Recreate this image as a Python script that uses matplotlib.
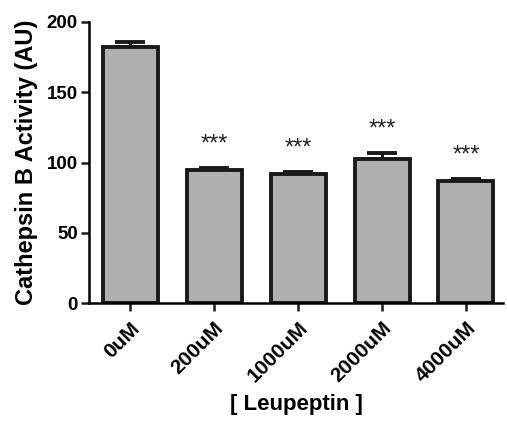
import matplotlib
matplotlib.use("Agg")
import matplotlib.pyplot as plt
import numpy as np

plt.rcParams['font.family'] = ['Liberation Sans', 'DejaVu Sans']

# Data
doses = ['0uM', '200uM', '1000uM', '2000uM', '4000uM']
activity = [182.4, 94.7, 91.8, 102.3, 86.8]
sem = [3.3, 1.7, 1.7, 4.5, 1.7]
stars = ['', '***', '***', '***', '***']

x = np.arange(len(doses))

fig = plt.figure(figsize=(5.07, 4.21), dpi=100)
ax = fig.add_axes([0.1755, 0.280, 0.8165, 0.668])

ax.errorbar(x, activity, yerr=[np.zeros(len(sem)), sem], fmt='none',
            ecolor='#1a1a1a', elinewidth=2.2, capsize=11, capthick=2.8, zorder=1)
ax.bar(x, activity, width=0.655, color='#b0b0b0', edgecolor='#1a1a1a',
       linewidth=2.8, zorder=2)

for xi, v, e, s in zip(x, activity, sem, stars):
    if s:
        ax.annotate(s, (xi, v + e), xytext=(0, 9), textcoords='offset points',
                    ha='center', va='bottom', fontsize=17, color='#222222')

ax.set_xlim(-0.49, 4.44)
ax.set_ylim(0, 200)
ax.set_yticks([0, 50, 100, 150, 200])
ax.set_xticks(x)
ax.set_xticklabels(doses, rotation=45, ha='right', rotation_mode='anchor',
                   fontweight='bold', fontsize=15)
for lab in ax.get_yticklabels():
    lab.set_fontweight('bold')
    lab.set_fontsize(13.5)

ax.spines['top'].set_visible(False)
ax.spines['right'].set_visible(False)
ax.spines['left'].set_linewidth(1.8)
ax.spines['bottom'].set_linewidth(1.8)
ax.tick_params(axis='both', direction='out', length=6, width=1.8, color='#1a1a1a')
ax.tick_params(axis='x', pad=5)
ax.tick_params(axis='y', pad=2)

ax.set_ylabel('Cathepsin B Activity (AU)', fontsize=17, fontweight='bold', labelpad=6)
ax.set_xlabel('[ Leupeptin ]', fontsize=16, fontweight='bold', labelpad=6)

fig.savefig('out.png', dpi=100)
